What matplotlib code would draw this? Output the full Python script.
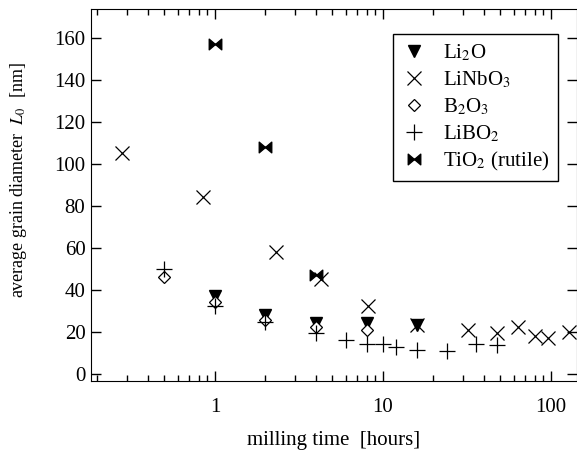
import numpy as np
import matplotlib
matplotlib.use('Agg')
import matplotlib.pyplot as plt
from matplotlib.path import Path
from matplotlib.ticker import LogLocator, NullFormatter, FixedLocator

plt.rcParams['font.family'] = 'Liberation Serif'
plt.rcParams['mathtext.fontset'] = 'stix'
plt.rcParams['font.size'] = 15

# данные (часы помола, диаметр зерна в нм)
li2o_t = [1, 2, 4, 8, 16]
li2o_d = [37, 28, 24, 24, 23]

linbo3_t = [0.28, 0.85, 2.3, 4.3, 8.1, 16, 32, 48, 64, 80, 96, 128]
linbo3_d = [105, 84, 58, 45, 32, 23, 21, 19.5, 22, 18, 17, 20]

b2o3_t = [0.5, 1, 2, 4, 8]
b2o3_d = [46, 34, 25.5, 22, 21]

libo2_t = [0.5, 1, 2, 4, 6, 8, 10, 12, 16, 24, 36, 48]
libo2_d = [50, 32, 24.5, 19.5, 16, 14, 14.3, 12.5, 11.5, 11, 14, 13.7]

tio2_t = [1, 2, 4]
tio2_d = [157, 108, 47]

# маркер "бабочка" для TiO2
bowtie = Path([(-1, -0.85), (0, 0), (-1, 0.85), (-1, -0.85),
               (1, -0.85), (0, 0), (1, 0.85), (1, -0.85)],
              [Path.MOVETO, Path.LINETO, Path.LINETO, Path.CLOSEPOLY,
               Path.MOVETO, Path.LINETO, Path.LINETO, Path.CLOSEPOLY])

fig = plt.figure(figsize=(5.77, 4.51), dpi=100)
ax = fig.add_axes([0.1577, 0.1552, 0.8423, 0.824])

ax.plot(li2o_t, li2o_d, ls='none', marker='v', ms=9, color='black', label='Li$_2$O')
ax.plot(linbo3_t, linbo3_d, ls='none', marker='x', ms=10, mew=0.9, color='black', label='LiNbO$_3$')
ax.plot(b2o3_t, b2o3_d, ls='none', marker='D', ms=6.5, mew=0.9, mfc='white', mec='black', label='B$_2$O$_3$')
ax.plot(libo2_t, libo2_d, ls='none', marker='+', ms=11, mew=0.9, color='black', label='LiBO$_2$')
ax.plot(tio2_t, tio2_d, ls='none', marker=bowtie, ms=9, color='black', label='TiO$_2$ (rutile)')

ax.set_xscale('log')
ax.set_xlim(0.183, 143)
ax.set_ylim(-3.5, 173.5)
ax.yaxis.set_major_locator(FixedLocator(np.arange(0, 161, 20)))
ax.xaxis.set_major_locator(FixedLocator([1, 10, 100]))
ax.set_xticklabels(['1', '10', '100'])
ax.xaxis.set_minor_locator(LogLocator(base=10, subs=np.arange(2, 10)))
ax.xaxis.set_minor_formatter(NullFormatter())

ax.tick_params(which='both', direction='in', top=True, right=True)
ax.tick_params(which='major', length=7, width=1)
ax.tick_params(which='minor', length=4, width=1)
ax.tick_params(axis='x', which='major', pad=12)
ax.tick_params(axis='y', which='major', pad=4)

ax.set_xlabel('milling time  [hours]', labelpad=10)
ax.set_ylabel('average grain diameter  $L_0$  [nm]', fontsize=13)
ax.yaxis.set_label_coords(-0.128, 0.54)

leg = ax.legend(loc='upper right', bbox_to_anchor=(558 / 577, 1 - 34 / 451),
                bbox_transform=fig.transFigure, borderaxespad=0,
                fancybox=False, edgecolor='black', framealpha=1,
                handlelength=1.2, labelspacing=0.3, fontsize=15)
leg.get_frame().set_linewidth(1)

plt.savefig('out.png', dpi=100)
